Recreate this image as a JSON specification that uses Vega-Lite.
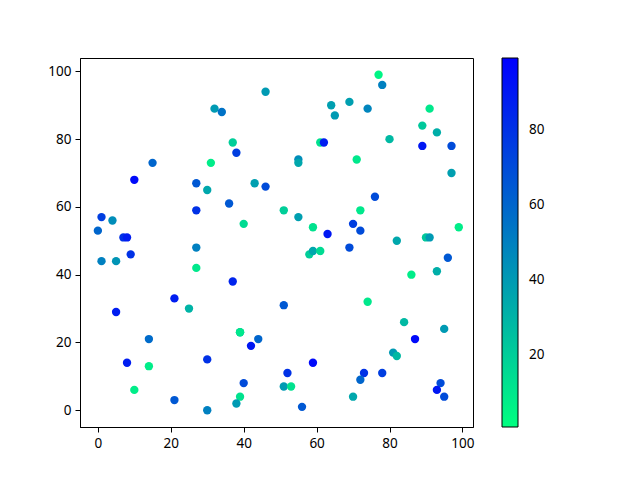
{
  "$schema": "https://vega.github.io/schema/vega-lite/v6.json",
  "autosize": "none",
  "width": 393,
  "height": 369,
  "padding": {"left": 80, "top": 58, "right": 167, "bottom": 53},
  "background": "white",
  "config": {
    "font": "Noto Sans",
    "view": {"stroke": "black", "strokeWidth": 1},
    "axis": {"grid": false, "domainColor": "black", "tickColor": "black", "tickSize": 5, "labelFontSize": 13.5, "labelColor": "black", "labelPadding": 4, "title": null}
  },
  "data": {"values": [
    {"x":46,"y":94,"c":40},{"x":32,"y":89,"c":40},{"x":34,"y":88,"c":55},{"x":37,"y":79,"c":20},{"x":38,"y":76,"c":75},
    {"x":15,"y":73,"c":60},{"x":31,"y":73,"c":8},{"x":10,"y":68,"c":95},{"x":27,"y":67,"c":65},{"x":30,"y":65,"c":35},
    {"x":43,"y":67,"c":38},{"x":46,"y":66,"c":70},{"x":36,"y":61,"c":65},{"x":27,"y":59,"c":80},{"x":40,"y":55,"c":15},
    {"x":1,"y":57,"c":75},{"x":4,"y":56,"c":45},{"x":0,"y":53,"c":60},{"x":7,"y":51,"c":80},{"x":8,"y":51,"c":88},
    {"x":27,"y":48,"c":50},{"x":77,"y":99,"c":5},{"x":78,"y":96,"c":50},{"x":64,"y":90,"c":38},{"x":69,"y":91,"c":38},
    {"x":65,"y":87,"c":40},{"x":74,"y":89,"c":48},{"x":91,"y":89,"c":10},{"x":89,"y":84,"c":22},{"x":93,"y":82,"c":32},
    {"x":80,"y":80,"c":28},{"x":61,"y":79,"c":12},{"x":62,"y":79,"c":88},{"x":89,"y":78,"c":90},{"x":97,"y":78,"c":70},
    {"x":55,"y":74,"c":45},{"x":55,"y":73,"c":35},{"x":71,"y":74,"c":10},{"x":97,"y":70,"c":38},{"x":76,"y":63,"c":70},
    {"x":51,"y":59,"c":20},{"x":55,"y":57,"c":38},{"x":72,"y":59,"c":10},{"x":59,"y":54,"c":12},{"x":63,"y":52,"c":90},
    {"x":70,"y":55,"c":75},{"x":72,"y":53,"c":70},{"x":99,"y":54,"c":8},{"x":82,"y":50,"c":35},{"x":90,"y":51,"c":22},
    {"x":91,"y":51,"c":40},{"x":69,"y":48,"c":70},{"x":58,"y":46,"c":20},{"x":59,"y":47,"c":35},{"x":61,"y":47,"c":15},
    {"x":96,"y":45,"c":65},{"x":86,"y":40,"c":8},{"x":93,"y":41,"c":32},{"x":51,"y":31,"c":65},{"x":74,"y":32,"c":10},
    {"x":84,"y":26,"c":28},{"x":95,"y":24,"c":40},{"x":87,"y":21,"c":95},{"x":81,"y":17,"c":40},{"x":82,"y":16,"c":28},
    {"x":59,"y":14,"c":95},{"x":52,"y":11,"c":80},{"x":73,"y":11,"c":80},{"x":78,"y":11,"c":75},{"x":72,"y":9,"c":60},
    {"x":51,"y":7,"c":40},{"x":53,"y":7,"c":12},{"x":94,"y":8,"c":70},{"x":93,"y":6,"c":90},{"x":95,"y":4,"c":70},
    {"x":70,"y":4,"c":35},{"x":56,"y":1,"c":65},{"x":9,"y":46,"c":80},{"x":1,"y":44,"c":50},{"x":5,"y":44,"c":42},
    {"x":27,"y":42,"c":10},{"x":37,"y":38,"c":85},{"x":21,"y":33,"c":88},{"x":25,"y":30,"c":30},{"x":5,"y":29,"c":88},
    {"x":39,"y":23,"c":35},{"x":39,"y":23,"c":10},{"x":44,"y":21,"c":60},{"x":42,"y":19,"c":90},{"x":14,"y":21,"c":58},
    {"x":8,"y":14,"c":88},{"x":14,"y":13,"c":8},{"x":30,"y":15,"c":80},{"x":10,"y":6,"c":8},{"x":40,"y":8,"c":70},
    {"x":21,"y":3,"c":65},{"x":30,"y":0,"c":50},{"x":39,"y":4,"c":12},{"x":38,"y":2,"c":40}
  ]},
  "mark": {"type": "circle", "size": 70, "opacity": 1},
  "encoding": {
    "x": {"field": "x", "type": "quantitative", "scale": {"domain": [-4.9, 102.9], "nice": false, "zero": false}, "axis": {"values": [0,20,40,60,80,100]}},
    "y": {"field": "y", "type": "quantitative", "scale": {"domain": [-4.95, 103.95], "nice": false, "zero": false}, "axis": {"values": [0,20,40,60,80,100]}},
    "color": {"field": "c", "type": "quantitative",
      "scale": {"domain": [1, 99], "range": ["#00ff80", "#0000ff"], "interpolate": "rgb", "nice": false, "zero": false},
      "legend": {"title": null, "orient": "right", "offset": 29, "padding": 0, "gradientLength": 369, "gradientThickness": 16, "gradientStrokeColor": "black", "gradientStrokeWidth": 1, "values": [20,40,60,80], "labelFontSize": 13.5, "labelColor": "black", "labelOffset": 11}
    }
  }
}
